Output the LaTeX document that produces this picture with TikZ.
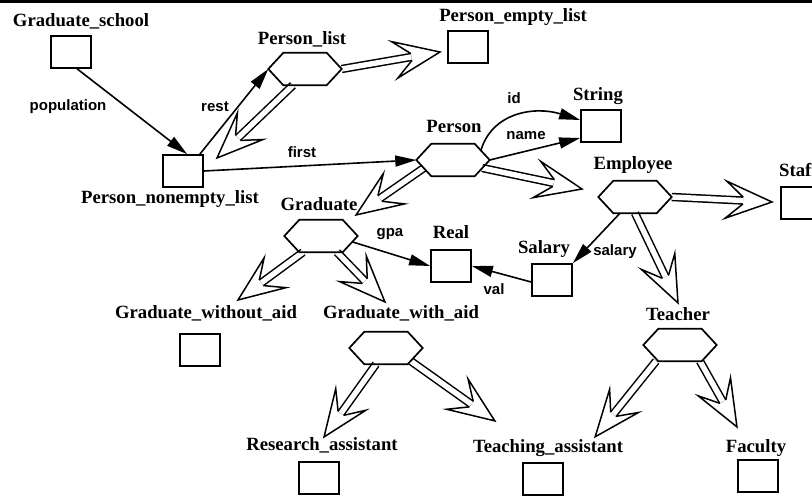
\documentclass[tikz,border=0pt]{standalone}
\usepackage{fontspec}
\setmainfont{Liberation Serif}
\setsansfont{Liberation Sans}
\usetikzlibrary{arrows.meta,calc,decorations.markings}
\newcommand\isaarrow[2]{%
  \draw[isashaft] (#1) -- (#2);
  \path[isahead] (#1) -- (#2);
}
\newcommand\hexdraw[1]{%
  \draw[hexline] (#1.west) -- ($(#1.north west)+(15,0)$) -- ($(#1.north east)+(-15,0)$) -- (#1.east) -- ($(#1.south east)+(-15,0)$) -- ($(#1.south west)+(15,0)$) -- cycle;
}
\begin{document}
\begin{tikzpicture}[x=1pt,y=-1pt,
  box/.style={draw, line width=1.7pt, minimum width=40pt, minimum height=32pt, inner sep=0pt},
  hexnode/.style={minimum width=73pt, minimum height=32pt, inner sep=0pt},
  hexline/.style={line width=1.7pt, line join=miter},
  lab/.style={font=\bfseries\fontsize{18.7}{20}\selectfont, anchor=base, inner sep=0pt},
  elab/.style={font=\sffamily\bfseries\fontsize{15}{16}\selectfont, anchor=base, inner sep=0pt},
  rel/.style={line width=1.6pt, -{Triangle[length=21pt,width=11pt]}},
  isashaft/.style={line width=1.5pt, double, double distance=5.4pt, shorten >=29pt},
  isahead/.style={decoration={markings, mark=at position 1 with {\draw[line width=1.5pt, line join=miter] (-29pt,3.45pt) -- (-46pt,18.5pt) -- (0pt,0pt) -- (-46pt,-18.5pt) -- (-29pt,-3.45pt);}}, decorate}
]
\useasboundingbox (0,0) rectangle (812,497);
\fill (0,0) rectangle (812,3.5);

% boxes
\node[box] (GS) at (71,52) {};
\node[box] (PEL) at (468,47) {};
\node[box] (PNL) at (183,171) {};
\node[box] (Str) at (601,126) {};
\node[box] (Real) at (451,266) {};
\node[box] (Sal) at (552,280) {};
\node[box] (Staff) at (801,203) {};
\node[box] (GWOA) at (200,350) {};
\node[box] (RA) at (319,478) {};
\node[box] (TA) at (543,479) {};
\node[box] (Fac) at (758,476) {};
% hexagon nodes
\node[hexnode] (PL) at (305,69) {};
\node[hexnode] (P) at (453,160) {};
\node[hexnode] (E) at (635,197) {};
\node[hexnode] (G) at (321,236) {};
\node[hexnode] (GWA) at (386,348) {};
\node[hexnode] (T) at (680,345) {};

% labels
\node[lab] (lGS) at (81,27) {Graduate\_school};
\node[lab] (lPL) at (302,45) {Person\_list};
\node[lab] (lPEL) at (513,22) {Person\_empty\_list};
\node[lab] (lPNL) at (170,204) {Person\_nonempty\_list};
\node[lab] (lP) at (454,133) {Person};
\node[lab] (lStr) at (598,101) {String};
\node[lab] (lE) at (633,170) {Employee};
\node[lab, anchor=base west] (lStaff) at (779,177) {Staff};
\node[lab] (lG) at (319,211) {Graduate};
\node[lab] (lReal) at (451,239) {Real};
\node[lab] (lSal) at (544,254) {Salary};
\node[lab] (lGWOA) at (206,319) {Graduate\_without\_aid};
\node[lab] (lGWA) at (401,319) {Graduate\_with\_aid};
\node[lab] (lT) at (678,320) {Teacher};
\node[lab] (lRA) at (322,450) {Research\_assistant};
\node[lab] (lTA) at (548,452) {Teaching\_assistant};
\node[lab] (lFac) at (756,452) {Faculty};

% edge labels
\node[elab] (lpop) at (68,111) {population};
\node[elab] (lrest) at (215,112) {rest};
\node[elab] (lfirst) at (302,158) {first};
\node[elab] (lid) at (514,104) {id};
\node[elab] (lname) at (526,140) {name};
\node[elab] (lgpa) at (390,237) {gpa};
\node[elab] (lval) at (494,295) {val};
\node[elab] (lsal) at (615,256) {salary};

% tips of the is-a arrows
\coordinate (t1) at (440,52);
\coordinate (t2) at (217,158);
\coordinate (t3) at (356,215);
\coordinate (t4) at (582,189);
\coordinate (t5) at (772,202);
\coordinate (t6) at (678,303);
\coordinate (t7) at (238,300);
\coordinate (t8) at (385,302);
\coordinate (t9) at (324,437);
\coordinate (t10) at (495,421);
\coordinate (t11) at (595,437);
\coordinate (t12) at (737,427);

\isaarrow{PL.east}{t1}
\isaarrow{$(PL.south)+(-12,0)$}{t2}
\isaarrow{$(P.west)+(7.5,8)$}{t3}
\isaarrow{$(P.east)+(-7.5,8)$}{t4}
\isaarrow{E.east}{t5}
\isaarrow{E.south}{t6}
\isaarrow{$(G.south)+(-18,0)$}{t7}
\isaarrow{$(G.south)+(16,0)$}{t8}
\isaarrow{$(GWA.south)+(-10,0)$}{t9}
\isaarrow{$(GWA.east)+(-12,13)$}{t10}
\isaarrow{$(T.south)+(-24,0)$}{t11}
\isaarrow{$(T.south)+(20,0)$}{t12}

% relationship arrows
\draw[rel] (GS.-70) -- (PNL.76);
\draw[rel] ($(PNL.north east)+(-4,0)$) -- (PL.west);
\draw[rel] (PNL.east) -- (P.west);
\draw[rel] ($(P.east)+(-9,-9)$) .. controls (492,112) and (535,106) .. ($(Str.west)+(0,-6)$);
\draw[rel] (P.east) -- ($(Str.west)+(0,12)$);
\draw[rel] ($(G.east)+(-5,6)$) -- (Real.west);
\draw[rel] ($(Sal.west)+(0,2)$) -- (Real.east);
\draw[rel] ($(E.south)+(-15,0)$) -- (Sal.north east);

% hexagons
\hexdraw{PL}
\hexdraw{P}
\hexdraw{E}
\hexdraw{G}
\hexdraw{GWA}
\hexdraw{T}
\end{tikzpicture}
\end{document}
